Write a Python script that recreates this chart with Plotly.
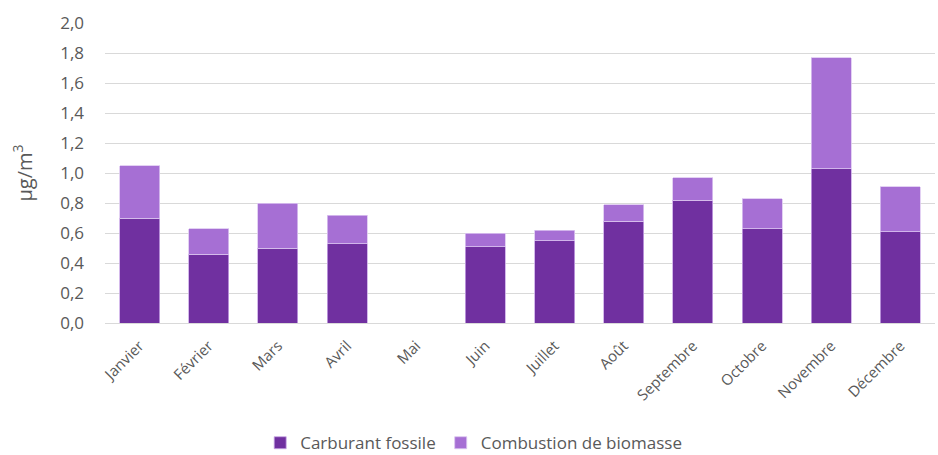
import plotly.graph_objects as go

months = ["Janvier", "Février", "Mars", "Avril", "Mai", "Juin", "Juillet",
          "Août", "Septembre", "Octobre", "Novembre", "Décembre"]
fossile = [0.70, 0.46, 0.50, 0.53, 0.0, 0.51, 0.55, 0.68, 0.82, 0.63, 1.03, 0.61]
biomasse = [0.35, 0.17, 0.30, 0.19, 0.0, 0.09, 0.07, 0.11, 0.15, 0.20, 0.74, 0.30]

font_family = "Open Sans, Noto Sans, sans-serif"
grey = "#595959"

fig = go.Figure()
fig.add_trace(go.Bar(x=months, y=fossile, name="Carburant fossile",
                     marker=dict(color="#7030A0", line=dict(color="#c9a8e6", width=0.8))))
fig.add_trace(go.Bar(x=months, y=biomasse, name="Combustion de biomasse",
                     marker=dict(color="#A66FD4", line=dict(color="#dcc6f0", width=0.8))))

fig.update_layout(
    barmode="stack",
    bargap=0.42,
    width=938, height=455,
    margin=dict(l=105, r=3, t=23, b=132),
    plot_bgcolor="white", paper_bgcolor="white",
    font=dict(family=font_family, color=grey, size=14),
    showlegend=True,
    legend=dict(orientation="h", x=0.505, xref="container", xanchor="center",
                y=0.026, yref="container", yanchor="middle",
                font=dict(size=17, color=grey), traceorder="normal",
                itemwidth=30, tracegroupgap=0),
    xaxis=dict(tickangle=-45, tickfont=dict(size=15, color=grey), showgrid=False,
               showline=True, linecolor="#d9d9d9", linewidth=1.3, ticks="",
               ticklabelstandoff=7),
    yaxis=dict(range=[0, 2.0], dtick=0.2, tickformat=".1f", showgrid=True,
               gridcolor="#d9d9d9", gridwidth=1.3, zeroline=False,
               tickfont=dict(size=17, color=grey), ticks="", ticklabelstandoff=20,
               title=dict(text="µg/m<sup>3</sup>", font=dict(size=20, color=grey), standoff=22)),
    separators=", ",
)

fig.write_html("out.html", config={"displayModeBar": False},
               post_script="document.body.style.margin='0';")
